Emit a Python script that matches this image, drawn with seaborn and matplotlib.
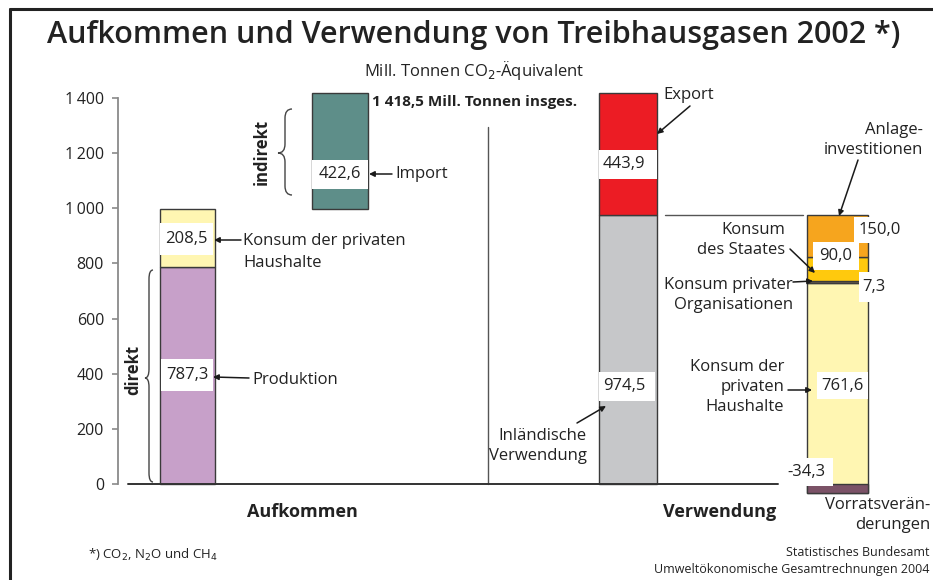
import numpy as np
import pandas as pd
import matplotlib
matplotlib.use("Agg")
import matplotlib.pyplot as plt
from matplotlib.path import Path
from matplotlib.patches import PathPatch, Rectangle
from matplotlib.lines import Line2D
import seaborn as sns

# ---------------- data ----------------
aufkommen_labels = ["Produktion", "Konsum der privaten Haushalte"]
aufkommen_values = [787.3, 208.5]
import_label = "Import"
import_value = 422.6
total_text = "1 418,5 Mill. Tonnen insges."
verwendung_labels = ["Inländische Verwendung", "Export"]
verwendung_values = [974.5, 443.9]
inland_labels = ["Vorratsveränderungen", "Konsum der privaten Haushalte",
                 "Konsum privater Organisationen", "Konsum des Staates",
                 "Anlageinvestitionen"]
inland_values = [-34.3, 761.6, 7.3, 90.0, 150.0]
y_ticks = [0, 200, 400, 600, 800, 1000, 1200, 1400]
y_tick_labels = ["0", "200", "400", "600", "800", "1\u2009000", "1\u2009200", "1\u2009400"]

# ---------------- style ----------------
sns.set_theme(style="ticks")
BODY = ["Open Sans", "DejaVu Sans"]
plt.rcParams["font.family"] = BODY

C_PURPLE = "#C7A0C9"
C_LYELLOW = "#FFF6B2"
C_TEAL = "#5E8E89"
C_RED = "#EC1C24"
C_GRAY = "#C6C7C9"
C_ORANGE = "#F6A51E"
C_YELLOW = "#FFC90D"
C_ORG = "#7A6550"
C_MAUVE = "#7B5267"
EDGE = "#3a3a3a"
TXT = "#222222"

W, H = 933, 580
PXU = 386 / 1400.0  # pixels per data unit


def dx(px):
    return (px - 118) / 100.0


def dy(py):
    return (484 - py) / PXU


fig = plt.figure(figsize=(W / 100, H / 100), dpi=100)
ax = fig.add_axes([0, 0, 1, 1])
ax.set_facecolor("white")

# bar layout (pixel centre, pixel width)
BARS = {"auf": (187.5, 55), "imp": (340, 56), "ver": (628, 58), "inl": (837.5, 61)}


def seg(key, bottom, height, color, z=2):
    cx, w = BARS[key]
    sns.barplot(x=[dx(cx)], y=[height], bottom=bottom, width=w / 100.0,
                native_scale=True, orient="x", color=color, saturation=1,
                edgecolor=EDGE, linewidth=1.0, errorbar=None, ax=ax, zorder=z)


# Aufkommen
seg("auf", 0, aufkommen_values[0], C_PURPLE)
seg("auf", aufkommen_values[0], aufkommen_values[1], C_LYELLOW)
# Import (floating on top of Aufkommen)
seg("imp", sum(aufkommen_values), import_value, C_TEAL)
# Verwendung
seg("ver", 0, verwendung_values[0], C_GRAY)
seg("ver", verwendung_values[0], verwendung_values[1], C_RED)
# Inländische Verwendung breakdown
inl_colors = [C_MAUVE, C_LYELLOW, C_ORG, C_YELLOW, C_ORANGE]
cum = inland_values[0]
for v, c in zip(inland_values[1:], inl_colors[1:]):
    seg("inl", cum, v, c)
    cum += v
seg("inl", 0, inland_values[0], inl_colors[0], z=3)

# ---------------- axes ----------------
ax.set_xlim(dx(0), dx(W))
ax.set_ylim(dy(H), dy(0))
for s in ["top", "right", "bottom"]:
    ax.spines[s].set_visible(False)
ax.spines["left"].set_position(("data", 0))
ax.spines["left"].set_bounds(0, 1400)
ax.spines["left"].set_color("#8a8a8a")
ax.spines["left"].set_linewidth(1.3)
ax.set_yticks(y_ticks)
ax.set_yticklabels(y_tick_labels)
ax.set_xticks([])
ax.tick_params(axis="y", direction="out", length=4, width=1.2, color="#8a8a8a",
               pad=6, labelsize=11.5, labelcolor=TXT, left=True)
ax.set_xlabel("")
ax.set_ylabel("")

# baseline, separator, reference line
ax.plot([dx(128), dx(778)], [0, 0], color="#333333", lw=1.4, zorder=4)
ax.plot([dx(488), dx(488)], [0, dy(127)], color="#555555", lw=1.0, zorder=1)
ax.plot([dx(665), dx(803)], [verwendung_values[0]] * 2, color="#555555", lw=1.0, zorder=1)


def fmt(v):
    return f"{v:.1f}".replace(".", ",")


# value boxes (pixel box) + labels
def vbox(x0, x1, y0, y1, text, tx=None):
    ax.add_patch(Rectangle((dx(x0), dy(y1)), (x1 - x0) / 100.0, (y1 - y0) / PXU,
                           facecolor="white", edgecolor="none", zorder=5))
    cx = (x0 + x1) / 2 if tx is None else tx
    ax.text(dx(cx), dy((y0 + y1) / 2), text, ha="center", va="center",
            fontsize=12, color=TXT, zorder=6)


vbox(160, 213, 223, 255, fmt(aufkommen_values[1]))
vbox(161, 213, 359, 391, fmt(aufkommen_values[0]))
vbox(312, 368, 160, 189, fmt(import_value))
vbox(599, 657, 150, 179, fmt(verwendung_values[1]), tx=624)
vbox(599, 655, 372, 401, fmt(verwendung_values[0]), tx=624)
vbox(854, 906, 216.5, 243, fmt(inland_values[4]), tx=880)
vbox(813, 859, 242, 270, fmt(inland_values[3]))
vbox(859, 889, 272, 302, fmt(inland_values[2]))
vbox(817, 868, 372, 399, fmt(inland_values[1]))
vbox(779, 833, 458, 486, fmt(inland_values[0]))


def label(x, y, text, ha="left", size=12, weight="normal", ls=1.45, rot=0, color=TXT):
    ax.text(dx(x), dy(y), text, ha=ha, va="center", fontsize=size,
            fontweight=weight, linespacing=ls, rotation=rot, color=color, zorder=6)


def arrow(x0, y0, x1, y1):
    ax.annotate("", xy=(dx(x1), dy(y1)), xytext=(dx(x0), dy(y0)),
                arrowprops=dict(arrowstyle="-|>", color="#1a1a1a", lw=1.1,
                                mutation_scale=8, shrinkA=0, shrinkB=0), zorder=7)


label(243, 252, "Konsum der privaten\nHaushalte")
arrow(241, 240, 214, 240)
label(252, 380, "Produktion")
arrow(249, 378, 213, 377)
label(395, 174, "Import")
arrow(392, 174, 369, 174)
label(372, 102, total_text, size=11, weight="bold")
label(663, 95, "Export")
arrow(690, 106, 657, 134)
label(923, 140, "Anlage-\ninvestitionen", ha="right", ls=1.3)
arrow(858, 160, 839, 216)
label(785, 240, "Konsum\ndes Staates", ha="right", ls=1.4)
arrow(790, 249, 815, 273)
label(793, 295, "Konsum privater\nOrganisationen", ha="right", ls=1.4)
arrow(793, 282, 813, 281)
label(784, 387, "Konsum der\nprivaten\nHaushalte", ha="right", ls=1.35)
arrow(788, 390, 812, 390)
label(587, 446, "Inländische\nVerwendung", ha="right", ls=1.35)
arrow(577, 423, 606, 406)
label(930, 515, "Vorratsverän-\nderungen", ha="right", ls=1.4)

label(302, 512, "Aufkommen", ha="center", size=13, weight="bold")
label(720, 512, "Verwendung", ha="center", size=13, weight="bold")
label(133, 370, "direkt", ha="center", size=12, weight="bold", rot=90)
label(262, 152, "indirekt", ha="center", size=12, weight="bold", rot=90)


def brace(xc, w, y0, y1, ym, r=9):
    pts = [(xc + w, y0), (xc, y0), (xc, y0 + r),
           (xc, ym - r), (xc, ym), (xc - w, ym),
           (xc, ym), (xc, ym + r),
           (xc, y1 - r), (xc, y1), (xc + w, y1)]
    codes = [Path.MOVETO, Path.CURVE3, Path.CURVE3,
             Path.LINETO, Path.CURVE3, Path.CURVE3,
             Path.CURVE3, Path.CURVE3,
             Path.LINETO, Path.CURVE3, Path.CURVE3]
    verts = [(dx(x), dy(y)) for x, y in pts]
    ax.add_patch(PathPatch(Path(verts, codes), facecolor="none",
                           edgecolor="#444444", lw=1.0, zorder=6))


brace(149, 4, 270, 482, 378)
brace(285, 7, 109, 195, 153)

# titles and notes
fig.text(474 / W, 1 - 35 / H, "Aufkommen und Verwendung von Treibhausgasen 2002 *)",
         ha="center", va="center", fontsize=22, fontweight="semibold", color=TXT)
fig.text(474 / W, 1 - 70 / H, "Mill. Tonnen CO$_2$-Äquivalent", ha="center", va="center",
         fontsize=12, color=TXT)
fig.text(88 / W, 1 - 555 / H, "*) CO$_2$, N$_2$O und CH$_4$", ha="left", va="center",
         fontsize=9.5, color=TXT)
fig.text(929 / W, 1 - 561 / H, "Statistisches Bundesamt\nUmweltökonomische Gesamtrechnungen 2004",
         ha="right", va="center", fontsize=9, linespacing=1.35, color=TXT)

# frame lines (left and top)
fig.add_artist(Line2D([10 / W, 10 / W], [0, 1 - 9 / H], color="#222222", lw=2.2))
fig.add_artist(Line2D([10 / W, 1], [1 - 9 / H, 1 - 9 / H], color="#222222", lw=2.2))

fig.savefig("out.png", dpi=100)
